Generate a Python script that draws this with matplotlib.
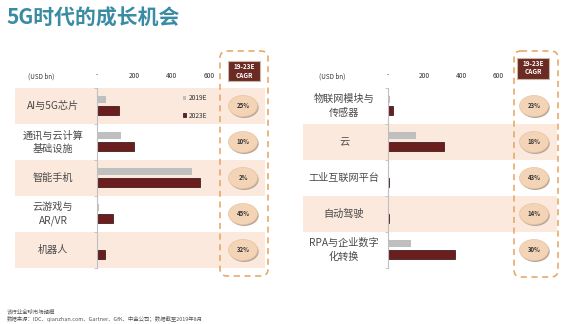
import matplotlib
matplotlib.use("Agg")
import matplotlib.pyplot as plt
from matplotlib.patches import Rectangle, FancyBboxPatch, Ellipse
import numpy as np

plt.rcParams['font.family'] = ['Noto Sans CJK SC', 'DejaVu Sans']

# data (USD bn)
left_cats = ['AI与5G芯片', '通讯与云计算\n基础设施', '智能手机', '云游戏与\nAR/VR', '机器人']
left_2019 = [48, 130, 510, 10, 6]
left_2023 = [116, 200, 553, 84, 42]
left_cagr = ['25%', '10%', '2%', '45%', '32%']

right_cats = ['物联网模块与\n传感器', '云', '工业互联网平台', '自动驾驶', 'RPA与企业数字\n化转换']
right_2019 = [10, 155, 3, 2, 127]
right_2023 = [26, 305, 8, 5, 365]
right_cagr = ['23%', '18%', '43%', '14%', '30%']

ticks = [0, 200, 400, 600]
tick_labels = ['-', '200', '400', '600']

W, H = 567, 324
band = '#fbe9dd'
grey = '#bfbfbf'
maroon = '#6b1e1e'
orange = '#e5a25f'
txt = '#4a4a4a'

fig = plt.figure(figsize=(W / 100, H / 100), dpi=100)
bg = fig.add_axes([0, 0, 1, 1])
bg.set_xlim(0, W)
bg.set_ylim(H, 0)
bg.axis('off')

bg.text(6, 18, '5G时代的成长机会', fontsize=15, color='#3a8ca4', va='center', ha='left',
        fontweight='bold')

row_top = 88
row_h = 36


def panel(band_x0, band_x1, label_x, ax_x0, ax_x1, cats, v19, v23, cagr, banded,
          box, head, circ_x, legend=False):
    # row bands and labels
    for i, c in enumerate(cats):
        yt = row_top + i * row_h
        if i in banded:
            bg.add_patch(Rectangle((band_x0, yt), band_x1 - band_x0, row_h, color=band, zorder=0, lw=0))
        bg.text(label_x, yt + row_h / 2, c, ha='center', va='center', fontsize=7.3, color=txt,
                linespacing=1.45)
    bg.text(label_x - 25, 77, '(USD bn)', fontsize=4.5, color='#333333', va='center', ha='left')

    # dashed CAGR box
    bx0, by0, bx1, by1 = box
    bg.add_patch(FancyBboxPatch((bx0, by0), bx1 - bx0, by1 - by0,
                                boxstyle='round,pad=0,rounding_size=7', fill=False,
                                ec=orange, ls=(0, (4, 3)), lw=1.1, zorder=3))
    hx0, hy0, hx1, hy1 = head
    bg.add_patch(Rectangle((hx0, hy0), hx1 - hx0, hy1 - hy0, color='#6b2a22', zorder=4,
                           ec='#c9b8a8', lw=0.8))
    bg.text((hx0 + hx1) / 2, hy0 + 5.5, '19-23E', color='white', fontsize=4.6, ha='center',
            va='center', fontweight='bold', zorder=5)
    bg.text((hx0 + hx1) / 2, hy0 + 14, 'CAGR', color='white', fontsize=4.6, ha='center',
            va='center', fontweight='bold', zorder=5)
    for i, c in enumerate(cagr):
        yc = row_top + i * row_h + row_h / 2
        bg.add_patch(Ellipse((circ_x + 1.2, yc + 1.5), 29, 21, color='#b9a89a', zorder=4, lw=0))
        bg.add_patch(Ellipse((circ_x, yc), 29, 21, color='#f3d4b6', zorder=4, ec='#e9c4a0', lw=0.5))
        bg.text(circ_x, yc, c, fontsize=4.3, ha='center', va='center', color='#333333', zorder=5,
                fontweight='bold')

    # bars
    ax = fig.add_axes([ax_x0 / W, 1 - (row_top + 5 * row_h) / H, (ax_x1 - ax_x0) / W,
                       5 * row_h / H])
    ax.patch.set_visible(False)
    y = np.arange(len(cats))
    b1 = ax.barh(y - 0.19, v19, height=0.2, color=grey, lw=0)
    b2 = ax.barh(y + 0.12, v23, height=0.25, color=maroon, ec='#2a0a0a', lw=0.5)
    ax.set_ylim(len(cats) - 0.5, -0.5)
    ax.set_xlim(0, 600)
    ax.xaxis.tick_top()
    ax.set_xticks(ticks)
    ax.set_xticklabels(tick_labels, fontsize=4.8, color='#333333')
    ax.tick_params(axis='x', length=0, pad=6)
    ax.set_yticks(np.arange(len(cats) + 1) - 0.5)
    ax.set_yticklabels([])
    ax.tick_params(axis='y', length=2, color=grey, width=0.6)
    for s in ['top', 'right', 'bottom']:
        ax.spines[s].set_visible(False)
    ax.spines['left'].set_color(grey)
    ax.spines['left'].set_linewidth(0.8)
    if legend:
        ax.legend([b1, b2], ['2019E', '2023E'], loc='upper right', bbox_to_anchor=(1.04, 1.0),
                  frameon=False, fontsize=4.8, handlelength=0.5, handleheight=0.5,
                  handletextpad=0.4, labelspacing=1.45, labelcolor='#333333')
    return ax


panel(15, 265, 53, 97, 209, left_cats, left_2019, left_2023, left_cagr, [0, 2, 4],
      (220, 51, 268, 276), (228, 61, 260, 81), 243, legend=True)
panel(303, 557, 344, 388, 498, right_cats, right_2019, right_2023, right_cagr, [1, 3],
      (514, 51, 558, 277), (517, 58, 549, 79), 534)

bg.text(7, 312, '该行业全球市场规模', fontsize=3.9, color='#555555', va='center')
bg.text(7, 319, '数据来源：IDC、qianzhan.com、Gartner、GfK、中金公司；数据截至2019年8月', fontsize=3.9,
        color='#555555', va='center')

fig.savefig('out.png', dpi=100)
